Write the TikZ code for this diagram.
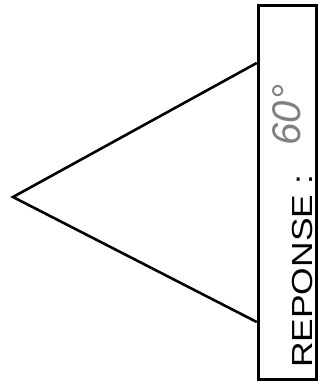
\documentclass[tikz,border=0pt]{standalone}
\usepackage{fontspec}
\setmainfont{Liberation Sans}
\begin{document}
\begin{tikzpicture}[x=1pt, y=-1pt]
        \useasboundingbox (0, 0) rectangle (320, 388);
        \node[draw, line width=3.5pt, minimum width=58pt, minimum height=374pt, inner sep=0pt] (box) at (287.5, 192.5) {};
        \node[rotate=90, anchor=base west, inner sep=0pt, font=\fontsize{29}{29}\selectfont] (label) at (312, 368) {\scalebox{1.22}[1]{REPONSE :}};
        \node[rotate=90, inner sep=0pt, gray, font=\itshape\fontsize{40}{40}\selectfont] (answer) at (287, 115) {60\textdegree};
        \coordinate (apex) at (13, 197);
        \coordinate (top) at (box.west |- 0, 63);
        \coordinate (bot) at (box.west |- 0, 322);
        \draw[line width=2.6pt] (top) -- (apex) -- (bot);
    \end{tikzpicture}
\end{document}
